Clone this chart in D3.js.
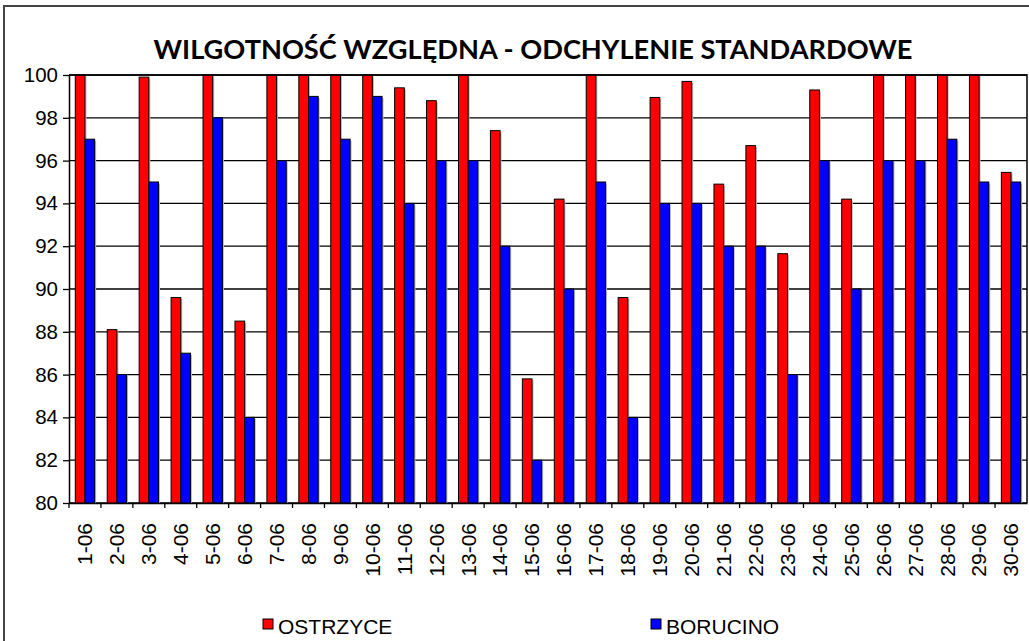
<!DOCTYPE html>
<html>
<head>
<meta charset="utf-8">
<script src="https://cdn.jsdelivr.net/npm/d3@7"></script>
<style>
  body { margin: 0; background: #fff; }
  svg { display: block; }
</style>
</head>
<body>
<div id="chart"></div>
<script>
// dni czerwca
const dni = ['1-06','2-06','3-06','4-06','5-06','6-06','7-06','8-06','9-06','10-06',
  '11-06','12-06','13-06','14-06','15-06','16-06','17-06','18-06','19-06','20-06',
  '21-06','22-06','23-06','24-06','25-06','26-06','27-06','28-06','29-06','30-06'];

const ostrzyce = [100, 88.1, 99.9, 89.6, 100, 88.5, 100, 100, 100, 100,
  99.4, 98.8, 100, 97.4, 85.8, 94.2, 100, 89.6, 98.95, 99.7,
  94.9, 96.7, 91.65, 99.3, 94.2, 100, 100, 100, 100, 95.45];

const borucino = [97, 86, 95, 87, 98, 84, 96, 99, 97, 99,
  94, 96, 96, 92, 82, 90, 95, 84, 94, 94,
  92, 92, 86, 96, 90, 96, 96, 97, 95, 95];

const serie = ['OSTRZYCE', 'BORUCINO'];
const kolory = ['#ff0000', '#0000ff'];
const yTicks = [80, 82, 84, 86, 88, 90, 92, 94, 96, 98, 100];
const tytul = 'WILGOTNOŚĆ WZGLĘDNA - ODCHYLENIE STANDARDOWE';

const W = 1029, H = 641;
const pLeft = 69, pRight = 1027, pTop = 75, pBottom = 503;

const svg = d3.select('#chart').append('svg')
  .attr('width', W)
  .attr('height', H);

// ramka całego wykresu
svg.append('rect')
  .attr('x', 4).attr('y', 6)
  .attr('width', 1100).attr('height', 700)
  .attr('fill', 'none')
  .attr('stroke', '#444')
  .attr('stroke-width', 2);

const x0 = d3.scaleBand().domain(dni).range([pLeft, pRight]).padding(0);
const x1 = d3.scaleBand().domain(serie).range([0, x0.bandwidth()])
  .paddingInner(0).paddingOuter(0.65);
const y = d3.scaleLinear().domain([80, 100]).range([pBottom, pTop]);

// linie siatki
svg.append('g')
  .selectAll('line')
  .data(yTicks)
  .enter().append('line')
  .attr('x1', pLeft).attr('x2', pRight)
  .attr('y1', d => y(d)).attr('y2', d => y(d))
  .attr('stroke', '#000')
  .attr('stroke-width', 1.3);

// słupki
const rows = dni.map((d, i) => ({ dzien: d, vals: [ostrzyce[i], borucino[i]] }));
const grp = svg.append('g')
  .selectAll('g')
  .data(rows)
  .enter().append('g')
  .attr('transform', d => `translate(${x0(d.dzien)},0)`);

const bars = d => d.vals.map((v, k) => ({ s: serie[k], v: v, k: k }));

// cień
grp.selectAll('.cien')
  .data(bars)
  .enter().append('rect')
  .attr('class', 'cien')
  .attr('x', d => x1(d.s) + 1.5)
  .attr('y', d => y(d.v) + 1.5)
  .attr('width', x1.bandwidth())
  .attr('height', d => pBottom - y(d.v) - 1.5)
  .attr('fill', '#bbb');

grp.selectAll('.bar')
  .data(bars)
  .enter().append('rect')
  .attr('class', 'bar')
  .attr('x', d => x1(d.s))
  .attr('y', d => y(d.v))
  .attr('width', x1.bandwidth())
  .attr('height', d => pBottom - y(d.v))
  .attr('fill', d => kolory[d.k])
  .attr('stroke', '#000')
  .attr('stroke-width', 1);

// ramka obszaru wykresu (góra, prawa)
svg.append('path')
  .attr('d', `M${pLeft},${pTop}H${pRight}V${pBottom}`)
  .attr('fill', 'none')
  .attr('stroke', '#000')
  .attr('stroke-width', 1.5);

// oś Y
const yAxis = svg.append('g')
  .attr('transform', `translate(${pLeft},0)`)
  .call(d3.axisLeft(y).tickValues(yTicks).tickSize(6).tickPadding(5).tickSizeOuter(0));
yAxis.select('.domain').attr('stroke', '#000').attr('stroke-width', 1.5);
yAxis.selectAll('.tick line').attr('stroke', '#000').attr('stroke-width', 1.3);
yAxis.selectAll('text')
  .attr('font-family', '"Liberation Sans", Arial, sans-serif')
  .attr('font-size', 20.5)
  .attr('fill', '#000');

// oś X
const xAxis = svg.append('g')
  .attr('transform', `translate(0,${pBottom})`)
  .call(d3.axisBottom(x0).tickSize(0).tickPadding(0).tickSizeOuter(0));
xAxis.select('.domain').attr('stroke', '#000').attr('stroke-width', 1.5);
xAxis.selectAll('text')
  .attr('font-family', '"Liberation Sans", Arial, sans-serif')
  .attr('font-size', 21)
  .attr('fill', '#000')
  .attr('text-anchor', 'end')
  .attr('y', 0)
  .attr('dy', '0.35em')
  .attr('transform', 'translate(0,20) rotate(-90)');

// kreski między kategoriami
svg.append('g')
  .selectAll('line')
  .data(dni)
  .enter().append('line')
  .attr('x1', d => x0(d)).attr('x2', d => x0(d))
  .attr('y1', pBottom).attr('y2', pBottom + 5)
  .attr('stroke', '#000')
  .attr('stroke-width', 1.3);

// tytuł
const t = svg.append('text')
  .attr('x', 533)
  .attr('y', 59)
  .attr('text-anchor', 'middle')
  .attr('font-family', 'Lato, "Open Sans", sans-serif')
  .attr('font-weight', 700)
  .attr('font-size', 28)
  .attr('fill', '#000')
  .text(tytul);
const tl = t.node().getComputedTextLength();
t.attr('font-size', 28 * 759 / tl);

// legenda
const legX = [263, 651];
const leg = svg.append('g')
  .selectAll('g')
  .data(serie)
  .enter().append('g')
  .attr('transform', (d, i) => `translate(${legX[i]},619)`);
leg.append('rect')
  .attr('width', 10).attr('height', 10)
  .attr('fill', (d, i) => kolory[i])
  .attr('stroke', '#000')
  .attr('stroke-width', 1);
leg.append('text')
  .attr('x', 15)
  .attr('y', 15)
  .attr('font-family', '"Liberation Sans", Arial, sans-serif')
  .attr('font-size', 21)
  .attr('fill', '#000')
  .text(d => d);
</script>
</body>
</html>
